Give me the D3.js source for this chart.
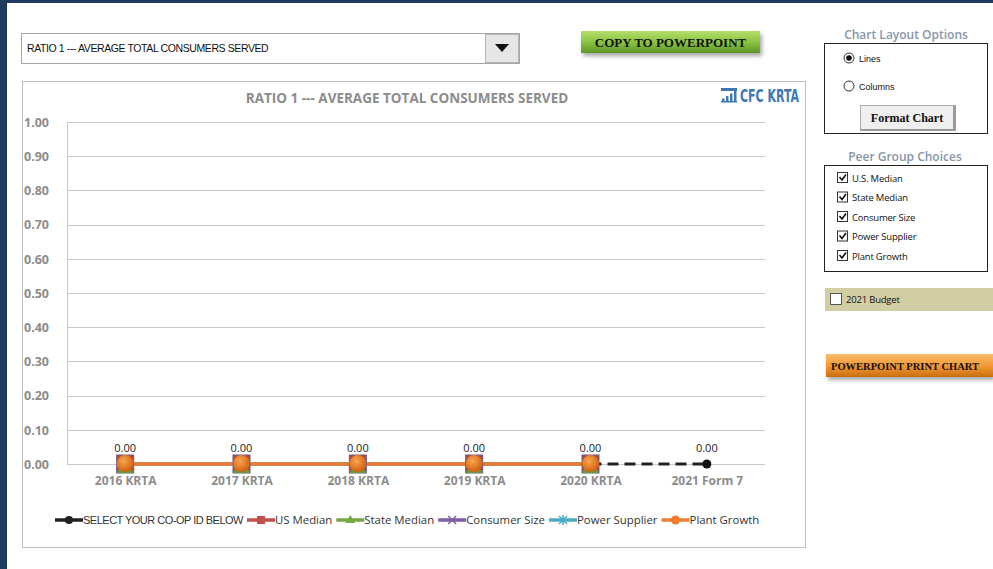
<!DOCTYPE html>
<html>
<head>
<meta charset="utf-8">
<script src="https://cdn.jsdelivr.net/npm/d3@7"></script>
<style>
  body { margin: 0; background: #fff; }
  svg text { font-family: "Open Sans", sans-serif; }
</style>
</head>
<body>
<div id="chart"></div>
<script>
const categories = ["2016 KRTA", "2017 KRTA", "2018 KRTA", "2019 KRTA", "2020 KRTA", "2021 Form 7"];
const yTicks = [0, 0.1, 0.2, 0.3, 0.4, 0.5, 0.6, 0.7, 0.8, 0.9, 1.0];
const coopValues = [0, 0, 0, 0, 0, 0];
const usMedian = [0, 0, 0, 0, 0];
const stateMedian = [0, 0, 0, 0, 0];
const consumerSize = [0, 0, 0, 0, 0];
const powerSupplier = [0, 0, 0, 0, 0];
const plantGrowth = [0, 0, 0, 0, 0];
const legendNames = ["SELECT YOUR CO-OP ID BELOW", "US Median", "State Median", "Consumer Size", "Power Supplier", "Plant Growth"];
const peerChoices = ["U.S. Median", "State Median", "Consumer Size", "Power Supplier", "Plant Growth"];

const W = 993, H = 569;
const svg = d3.select("#chart").append("svg").attr("width", W).attr("height", H);

// page frame
svg.append("rect").attr("width", W).attr("height", H).attr("fill", "#fff");
svg.append("rect").attr("width", W).attr("height", 3).attr("fill", "#1f3a5f");
svg.append("rect").attr("width", 7).attr("height", H).attr("fill", "#1f3a5f");

const defs = svg.append("defs");
const gGreen = defs.append("linearGradient").attr("id", "gGreen").attr("x1", 0).attr("y1", 0).attr("x2", 0).attr("y2", 1);
gGreen.append("stop").attr("offset", "0%").attr("stop-color", "#b6de6a");
gGreen.append("stop").attr("offset", "55%").attr("stop-color", "#86c03f");
gGreen.append("stop").attr("offset", "100%").attr("stop-color", "#5f9428");
const gOrange = defs.append("linearGradient").attr("id", "gOrange").attr("x1", 0).attr("y1", 0).attr("x2", 0).attr("y2", 1);
gOrange.append("stop").attr("offset", "0%").attr("stop-color", "#fbbd6b");
gOrange.append("stop").attr("offset", "55%").attr("stop-color", "#f0962f");
gOrange.append("stop").attr("offset", "100%").attr("stop-color", "#c86e12");
const gBall = defs.append("radialGradient").attr("id", "gBall").attr("cx", "40%").attr("cy", "35%").attr("r", "65%");
gBall.append("stop").attr("offset", "0%").attr("stop-color", "#f8a64f");
gBall.append("stop").attr("offset", "100%").attr("stop-color", "#d2600f");
const shadow = defs.append("filter").attr("id", "shadow").attr("x", "-10%").attr("y", "-20%").attr("width", "130%").attr("height", "160%");
shadow.append("feDropShadow").attr("dx", 2).attr("dy", 3).attr("stdDeviation", 2).attr("flood-opacity", 0.35);

// dropdown
svg.append("rect").attr("x", 21.5).attr("y", 33.5).attr("width", 498).attr("height", 30)
  .attr("fill", "#fff").attr("stroke", "#a6a6a6");
svg.append("text").attr("x", 27).attr("y", 52).attr("font-size", 10.5).attr("fill", "#111")
  .style("font-family", "Arial, 'Liberation Sans', sans-serif").attr("letter-spacing", -0.4)
  .text("RATIO 1 --- AVERAGE TOTAL CONSUMERS SERVED");
svg.append("rect").attr("x", 485.5).attr("y", 34.5).attr("width", 33).attr("height", 28)
  .attr("fill", "#e6e6e6").attr("stroke", "#b4b4b4");
svg.append("path").attr("d", "M495,44 L509,44 L502,52 Z").attr("fill", "#111");

// copy button
svg.append("rect").attr("x", 581).attr("y", 31).attr("width", 179).attr("height", 22)
  .attr("fill", "url(#gGreen)").attr("filter", "url(#shadow)");
svg.append("text").attr("x", 670.5).attr("y", 46.5).attr("text-anchor", "middle")
  .attr("font-size", 13).attr("font-weight", "bold").attr("fill", "#111")
  .style("font-family", "'Liberation Serif', 'DejaVu Serif', serif").text("COPY TO POWERPOINT");

// chart box
svg.append("rect").attr("x", 22.5).attr("y", 81.5).attr("width", 783).attr("height", 466)
  .attr("fill", "#fff").attr("stroke", "#bfbfbf");
svg.append("text").attr("x", 407).attr("y", 103).attr("text-anchor", "middle")
  .attr("font-size", 13.5).attr("font-weight", "bold").attr("fill", "#8c8c8c")
  .text("RATIO 1 --- AVERAGE TOTAL CONSUMERS SERVED");

// logo
const logo = svg.append("g").attr("transform", "translate(721,88)");
logo.append("rect").attr("x", 0).attr("y", 0).attr("width", 16).attr("height", 3).attr("fill", "#3e79b5");
[1, 5, 9, 13].forEach(function (x, i) {
  logo.append("rect").attr("x", x).attr("y", 13 - (i + 1) * 2.5).attr("width", 2.5).attr("height", (i + 1) * 2.5 + 1).attr("fill", "#3e79b5");
});
logo.append("rect").attr("x", 0).attr("y", 13).attr("width", 16).attr("height", 1.5).attr("fill", "#3e79b5");
logo.append("text").attr("x", 19).attr("y", 14).attr("font-size", 17).attr("font-weight", "bold")
  .attr("fill", "#3e79b5").style("font-family", "'DejaVu Sans Condensed', 'Liberation Sans', sans-serif")
  .attr("textLength", 59).attr("lengthAdjust", "spacingAndGlyphs").text("CFC KRTA");

// plot
const margin = { left: 67, right: 765, top: 122, bottom: 464 };
const x = d3.scalePoint().domain(categories).range([margin.left, margin.right]).padding(0.5);
const y = d3.scaleLinear().domain([0, 1]).range([margin.bottom, margin.top]);

const grid = svg.append("g");
grid.selectAll("line").data(yTicks).enter().append("line")
  .attr("x1", margin.left).attr("x2", margin.right)
  .attr("y1", d => Math.round(y(d)) + 0.5).attr("y2", d => Math.round(y(d)) + 0.5)
  .attr("stroke", "#c8c8c8").attr("stroke-width", 1);
svg.append("line").attr("x1", margin.left + 0.5).attr("x2", margin.left + 0.5)
  .attr("y1", margin.top).attr("y2", margin.bottom).attr("stroke", "#c8c8c8");

const yAxis = svg.append("g").attr("transform", "translate(24,0)")
  .call(d3.axisLeft(y).tickValues(yTicks).tickFormat(d3.format(".2f")).tickSize(0));
yAxis.select(".domain").remove();
yAxis.selectAll("text").attr("x", 0).attr("text-anchor", "start").attr("dy", "0.35em")
  .attr("font-size", 12.5).attr("font-weight", "bold").attr("fill", "#8c8c8c")
  .style("font-family", "'Open Sans', sans-serif");

const xAxis = svg.append("g").attr("transform", `translate(0,${margin.bottom})`)
  .call(d3.axisBottom(x).tickSize(0));
xAxis.select(".domain").remove();
xAxis.selectAll("text").attr("y", 21).attr("dy", "0")
  .attr("font-size", 12).attr("font-weight", "bold").attr("fill", "#8c8c8c")
  .style("font-family", "'Open Sans', sans-serif");

const line = d3.line().x(d => x(d.c)).y(d => y(d.v));
const toPts = arr => arr.map((v, i) => ({ c: categories[i], v: v }));

// co-op series: solid through 2020, dashed to 2021
const coopPts = toPts(coopValues);
svg.append("path").datum(coopPts.slice(0, 5)).attr("d", line)
  .attr("fill", "none").attr("stroke", "#222").attr("stroke-width", 3);
svg.append("path").datum(coopPts.slice(4)).attr("d", line)
  .attr("fill", "none").attr("stroke", "#222").attr("stroke-width", 3).attr("stroke-dasharray", "11,6");
svg.append("circle").attr("cx", x(categories[5])).attr("cy", y(coopValues[5])).attr("r", 4.5).attr("fill", "#111");

// peers
const peers = [
  { vals: usMedian, color: "#c0504d" },
  { vals: stateMedian, color: "#77a843" },
  { vals: consumerSize, color: "#7e5fa6" },
  { vals: powerSupplier, color: "#4bacc6" },
  { vals: plantGrowth, color: "#ed7d31" }
];
peers.forEach(p => {
  svg.append("path").datum(toPts(p.vals)).attr("d", line)
    .attr("fill", "none").attr("stroke", p.color).attr("stroke-width", 3.5);
});
// markers
svg.selectAll(".m-us").data(toPts(usMedian)).enter().append("rect")
  .attr("x", d => x(d.c) - 8.5).attr("y", d => y(d.v) - 9).attr("width", 17).attr("height", 18)
  .attr("fill", "#b5443f").attr("stroke", "#6f5a86").attr("stroke-width", 1);
svg.selectAll(".m-st").data(toPts(stateMedian)).enter().append("path")
  .attr("d", d => `M${x(d.c) - 8.5},${y(d.v) + 9} L${x(d.c) + 8.5},${y(d.v) + 9} L${x(d.c)},${y(d.v) - 5} Z`)
  .attr("fill", "#6a9a3a");
svg.selectAll(".m-pg").data(toPts(plantGrowth)).enter().append("circle")
  .attr("cx", d => x(d.c)).attr("cy", d => y(d.v) - 0.5).attr("r", 8.5).attr("fill", "url(#gBall)");

// data labels
svg.selectAll(".lbl").data(coopPts).enter().append("text")
  .attr("x", d => x(d.c)).attr("y", d => y(d.v) - 12).attr("text-anchor", "middle")
  .attr("font-size", 11).attr("fill", "#222").text(d => d3.format(".2f")(d.v));

// legend
const legendColors = ["#222", "#c0504d", "#77a843", "#7e5fa6", "#4bacc6", "#ed7d31"];
const lg = svg.append("g");
let lx = 55;
const ly = 520;
legendNames.forEach((name, i) => {
  const g = lg.append("g");
  g.append("line").attr("x1", lx).attr("x2", lx + 28).attr("y1", ly).attr("y2", ly)
    .attr("stroke", legendColors[i]).attr("stroke-width", 3.5);
  const cx = lx + 14;
  if (i === 0) g.append("circle").attr("cx", cx).attr("cy", ly).attr("r", 4).attr("fill", "#222");
  if (i === 1) g.append("rect").attr("x", cx - 4).attr("y", ly - 4).attr("width", 8).attr("height", 8).attr("fill", "#c0504d");
  if (i === 2) g.append("path").attr("d", `M${cx - 5},${ly + 3} L${cx + 5},${ly + 3} L${cx},${ly - 5} Z`).attr("fill", "#77a843");
  if (i === 3) g.append("path").attr("d", `M${cx - 4},${ly - 4} L${cx + 4},${ly + 4} M${cx - 4},${ly + 4} L${cx + 4},${ly - 4}`).attr("stroke", "#7e5fa6").attr("stroke-width", 1.5);
  if (i === 4) g.append("path").attr("d", `M${cx - 4},${ly - 4} L${cx + 4},${ly + 4} M${cx - 4},${ly + 4} L${cx + 4},${ly - 4} M${cx},${ly - 5} L${cx},${ly + 5}`).attr("stroke", "#4bacc6").attr("stroke-width", 1.5);
  if (i === 5) g.append("circle").attr("cx", cx).attr("cy", ly).attr("r", 4.5).attr("fill", "#ed7d31");
  const t = g.append("text").attr("x", lx + 28).attr("y", ly + 4)
    .attr("font-size", i === 0 ? 11 : 11.4).attr("fill", "#333")
    .style("font-family", i === 0 ? "'Liberation Sans', Arial, sans-serif" : "'Open Sans', sans-serif")
    .attr("letter-spacing", i === 0 ? -0.5 : 0).text(name);
  lx += 28 + t.node().getComputedTextLength() + 4;
});

// right panel
svg.append("text").attr("x", 906).attr("y", 39).attr("text-anchor", "middle").attr("font-size", 12)
  .attr("font-weight", "600").attr("fill", "#8896a8").text("Chart Layout Options");
svg.append("rect").attr("x", 824.5).attr("y", 43.5).attr("width", 163).attr("height", 90)
  .attr("fill", "#fff").attr("stroke", "#222");
[["Lines", 58, true], ["Columns", 86, false]].forEach(r => {
  svg.append("circle").attr("cx", 849).attr("cy", r[1]).attr("r", 5).attr("fill", "#fff")
    .attr("stroke", "#333").attr("stroke-width", 1);
  if (r[2]) svg.append("circle").attr("cx", 849).attr("cy", r[1]).attr("r", 2.8).attr("fill", "#111");
  svg.append("text").attr("x", 859).attr("y", r[1] + 3.5).attr("font-size", 9).attr("fill", "#111")
    .style("font-family", "Arial, 'Liberation Sans', sans-serif").text(r[0]);
});
svg.append("rect").attr("x", 860.5).attr("y", 105.5).attr("width", 95).attr("height", 25)
  .attr("fill", "#efefef").attr("stroke", "#aaa");
svg.append("rect").attr("x", 953).attr("y", 106).attr("width", 3).attr("height", 25).attr("fill", "#9a9a9a");
svg.append("rect").attr("x", 861).attr("y", 129).attr("width", 95).attr("height", 2).attr("fill", "#9a9a9a");
svg.append("text").attr("x", 907).attr("y", 122).attr("text-anchor", "middle").attr("font-size", 12)
  .attr("font-weight", "bold").attr("fill", "#111")
  .style("font-family", "'Liberation Serif', 'DejaVu Serif', serif").text("Format Chart");

svg.append("text").attr("x", 905).attr("y", 161).attr("text-anchor", "middle").attr("font-size", 12)
  .attr("font-weight", "600").attr("fill", "#8896a8").text("Peer Group Choices");
svg.append("rect").attr("x", 824.5).attr("y", 165.5).attr("width", 163).attr("height", 106)
  .attr("fill", "#fff").attr("stroke", "#222");
const cbY = d3.scalePoint().domain(peerChoices).range([178, 256]);
peerChoices.forEach(name => {
  const cy = cbY(name);
  svg.append("rect").attr("x", 837.5).attr("y", cy - 5.5).attr("width", 10).attr("height", 10)
    .attr("fill", "#fff").attr("stroke", "#333");
  svg.append("path").attr("d", `M839.5,${cy - 1} L842,${cy + 2} L846,${cy - 3.5}`)
    .attr("fill", "none").attr("stroke", "#111").attr("stroke-width", 1.6);
  svg.append("text").attr("x", 852).attr("y", cy + 3.5).attr("font-size", 9.5).attr("fill", "#111")
    .attr("letter-spacing", -0.2).text(name);
});

svg.append("rect").attr("x", 825).attr("y", 288).attr("width", 168).attr("height", 23).attr("fill", "#d1cea3");
svg.append("rect").attr("x", 830.5).attr("y", 293.5).attr("width", 11).attr("height", 11)
  .attr("fill", "#fff").attr("stroke", "#555");
svg.append("text").attr("x", 846).attr("y", 302.5).attr("font-size", 9.5).attr("fill", "#111")
  .attr("letter-spacing", -0.2).text("2021 Budget");

// print button runs to the right edge of the sheet
svg.append("rect").attr("x", 826).attr("y", 354).attr("width", 167).attr("height", 23)
  .attr("fill", "url(#gOrange)").attr("filter", "url(#shadow)");
svg.append("text").attr("x", 831).attr("y", 370).attr("font-size", 10.5).attr("font-weight", "bold")
  .attr("fill", "#111").style("font-family", "'Liberation Serif', 'DejaVu Serif', serif")
  .text("POWERPOINT PRINT CHART");
</script>
</body>
</html>
